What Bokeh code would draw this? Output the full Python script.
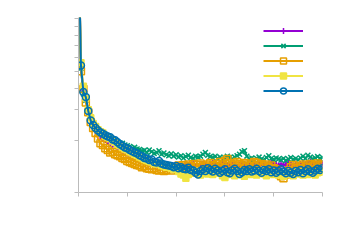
from bokeh.plotting import figure
from bokeh.models import Range1d, FixedTicker, CustomJSTickFormatter, Legend, LegendItem
from bokeh.embed import file_html
from bokeh.resources import INLINE

epochs = list(range(0, 101))

s_purple = [30, 5.3, 3.9, 3.45, 2.95, 2.62, 2.42, 2.3, 2.2, 2.12,
            2.06, 2.02, 1.98, 1.93, 1.90, 1.86, 1.82, 1.78, 1.75, 1.72,
            1.69, 1.66, 1.63, 1.60, 1.58, 1.56, 1.53, 1.51, 1.50, 1.48,
            1.47, 1.45, 1.44, 1.45, 1.42, 1.41, 1.43, 1.40, 1.39, 1.42,
            1.40, 1.43, 1.39, 1.41, 1.44, 1.40, 1.42, 1.45, 1.41, 1.38,
            1.42, 1.45, 1.43, 1.40, 1.44, 1.47, 1.42, 1.40, 1.43, 1.46,
            1.44, 1.41, 1.45, 1.48, 1.43, 1.40, 1.44, 1.47, 1.45, 1.42,
            1.44, 1.48, 1.46, 1.43, 1.45, 1.49, 1.44, 1.42, 1.46, 1.50,
            1.47, 1.44, 1.42, 1.46, 1.43, 1.45, 1.48, 1.44, 1.42, 1.46,
            1.43, 1.45, 1.48, 1.44, 1.47, 1.50, 1.46, 1.43, 1.47, 1.49,
            1.46]

s_green = [30, 5.2, 3.7, 3.4, 3.0, 2.7, 2.5, 2.4, 2.3, 2.25,
           2.2, 2.15, 2.12, 2.05, 2.02, 1.98, 1.95, 1.93, 1.92, 1.88,
           1.86, 1.84, 1.80, 1.82, 1.78, 1.77, 1.74, 1.75, 1.70, 1.76,
           1.72, 1.68, 1.70, 1.74, 1.66, 1.69, 1.65, 1.63, 1.67, 1.62,
           1.65, 1.60, 1.63, 1.58, 1.61, 1.64, 1.59, 1.57, 1.62, 1.60,
           1.62, 1.66, 1.70, 1.64, 1.61, 1.59, 1.62, 1.57, 1.60, 1.55,
           1.58, 1.62, 1.59, 1.56, 1.60, 1.63, 1.66, 1.72, 1.74, 1.62,
           1.56, 1.58, 1.55, 1.57, 1.60, 1.56, 1.54, 1.59, 1.63, 1.57,
           1.55, 1.58, 1.56, 1.54, 1.57, 1.53, 1.56, 1.59, 1.55, 1.57,
           1.54, 1.58, 1.62, 1.57, 1.64, 1.60, 1.56, 1.58, 1.61, 1.57,
           1.59]

s_orange = [30, 5.0, 3.95, 3.3, 2.9, 2.55, 2.35, 2.2, 2.05, 1.92,
            1.88, 1.80, 1.76, 1.70, 1.72, 1.66, 1.64, 1.62, 1.58, 1.56,
            1.52, 1.50, 1.48, 1.46, 1.44, 1.43, 1.40, 1.42, 1.38, 1.37,
            1.36, 1.38, 1.35, 1.34, 1.36, 1.33, 1.35, 1.38, 1.34, 1.40,
            1.40, 1.43, 1.39, 1.44, 1.41, 1.45, 1.42, 1.46, 1.40, 1.44,
            1.47, 1.43, 1.41, 1.45, 1.48, 1.44, 1.42, 1.46, 1.50, 1.45,
            1.52, 1.56, 1.48, 1.44, 1.47, 1.50, 1.46, 1.43, 1.48, 1.45,
            1.42, 1.47, 1.50, 1.48, 1.44, 1.46, 1.42, 1.45, 1.40, 1.43,
            1.38, 1.36, 1.30, 1.24, 1.21, 1.27, 1.34, 1.40, 1.44, 1.41,
            1.38, 1.42, 1.45, 1.40, 1.43, 1.46, 1.41, 1.44, 1.47, 1.43,
            1.45]

s_yellow = [30, 5.6, 4.1, 3.5, 3.0, 2.7, 2.5, 2.4, 2.3, 2.24,
            2.2, 2.12, 2.08, 2.04, 1.98, 1.95, 1.90, 1.86, 1.82, 1.78,
            1.76, 1.72, 1.69, 1.66, 1.64, 1.60, 1.58, 1.55, 1.53, 1.51,
            1.50, 1.47, 1.46, 1.48, 1.43, 1.42, 1.40, 1.41, 1.38, 1.36,
            1.37, 1.32, 1.28, 1.26, 1.21, 1.27, 1.31, 1.29, 1.33, 1.30,
            1.26, 1.29, 1.32, 1.28, 1.31, 1.27, 1.30, 1.33, 1.29, 1.25,
            1.22, 1.27, 1.31, 1.28, 1.25, 1.29, 1.32, 1.27, 1.24, 1.28,
            1.31, 1.27, 1.30, 1.26, 1.29, 1.33, 1.28, 1.25, 1.29, 1.31,
            1.27, 1.30, 1.26, 1.28, 1.24, 1.27, 1.31, 1.28, 1.25, 1.29,
            1.32, 1.28, 1.26, 1.30, 1.27, 1.31, 1.29, 1.26, 1.30, 1.33,
            1.31]

s_blue = [30, 5.4, 3.8, 3.55, 2.95, 2.6, 2.45, 2.35, 2.28, 2.22,
          2.18, 2.14, 2.10, 2.08, 2.02, 2.0, 1.95, 1.90, 1.86, 1.82,
          1.80, 1.76, 1.73, 1.70, 1.68, 1.64, 1.62, 1.58, 1.57, 1.54,
          1.55, 1.50, 1.49, 1.52, 1.47, 1.45, 1.44, 1.43, 1.42, 1.40,
          1.42, 1.38, 1.40, 1.37, 1.36, 1.39, 1.35, 1.34, 1.30, 1.27,
          1.33, 1.36, 1.33, 1.38, 1.35, 1.32, 1.37, 1.34, 1.30, 1.33,
          1.36, 1.31, 1.29, 1.34, 1.37, 1.33, 1.28, 1.31, 1.35, 1.33,
          1.36, 1.32, 1.34, 1.37, 1.33, 1.30, 1.35, 1.33, 1.36, 1.31,
          1.34, 1.30, 1.33, 1.36, 1.32, 1.29, 1.33, 1.30, 1.28, 1.33,
          1.31, 1.35, 1.29, 1.33, 1.36, 1.32, 1.30, 1.34, 1.37, 1.35,
          1.38]

x_ticks = [0, 20, 40, 60, 80, 100]
y_ticks = [1, 2, 3, 4, 5, 6, 7, 8, 9, 10]

series = [
    (s_purple, "#9400d3", "cross", 7, None),
    (s_green, "#009e73", "x", 7, None),
    (s_orange, "#e69f00", "square", 7, None),
    (s_yellow, "#f0e442", "square", 6, "#f0e442"),
    (s_blue, "#0072b2", "circle", 7, None),
]

p = figure(frame_width=244, frame_height=175, y_axis_type="log",
           x_range=Range1d(0, 100), y_range=Range1d(1, 10.2),
           output_backend="svg", toolbar_location=None,
           min_border_left=78, min_border_right=20,
           min_border_top=17, min_border_bottom=45)

p.outline_line_color = None
p.grid.visible = False
p.background_fill_color = "white"
p.border_fill_color = "white"

for ax in (p.xaxis[0], p.yaxis[0]):
    ax.axis_line_color = "#bbbbbb"
    ax.major_tick_line_color = "#bbbbbb"
    ax.minor_tick_line_color = None
    ax.major_tick_in = 0
    ax.major_tick_out = 4
    ax.formatter = CustomJSTickFormatter(code="return ''")
p.xaxis[0].ticker = FixedTicker(ticks=x_ticks)
p.yaxis[0].ticker = FixedTicker(ticks=y_ticks)

items = []
for ys, col, mk, sz, fill in series:
    lr = p.line(epochs, ys, line_color=col, line_width=2)
    sr = p.scatter(epochs, ys, marker=mk, size=sz, line_color=col,
                   fill_color=fill, line_width=1.5)
    items.append(LegendItem(label=" ", renderers=[lr, sr]))

legend = Legend(items=items, location=(185, 94), glyph_width=40,
                glyph_height=15, label_height=15, spacing=0, padding=0,
                margin=0, border_line_color=None, background_fill_alpha=0,
                label_standoff=0, label_width=0)
p.add_layout(legend)

open("out.html", "w").write(file_html(p, INLINE))
